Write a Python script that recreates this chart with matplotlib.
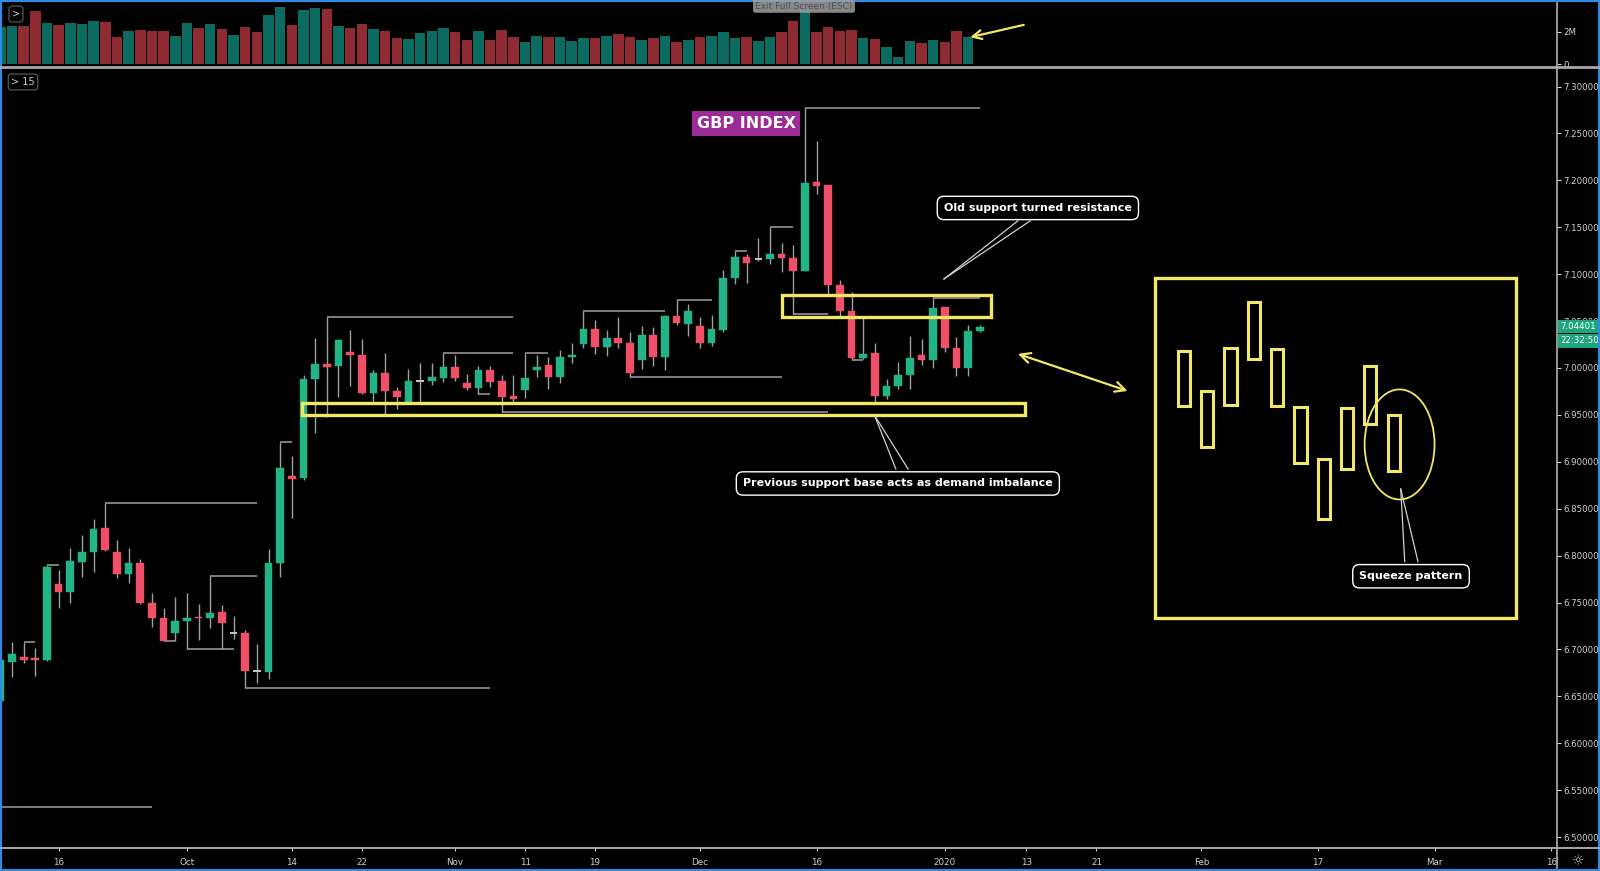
import numpy as np
import matplotlib
matplotlib.use('Agg')
import matplotlib.pyplot as plt
from matplotlib.patches import Rectangle, Ellipse
from matplotlib.lines import Line2D

# daily bars, index 0 = Sep 16 2019 (weekdays only)
bar_idx = list(range(-5, 80))
opens = [6.645, 6.687, 6.692, 6.691, 6.689, 6.770, 6.761, 6.793, 6.804, 6.829,
         6.804, 6.780, 6.792, 6.750, 6.734, 6.717, 6.730, 6.735, 6.733, 6.740,
         6.7170, 6.718, 6.6775, 6.676, 6.792, 6.885, 6.883, 6.988, 7.004, 7.002,
         7.017, 7.014, 6.973, 6.995, 6.976, 6.964, 6.9860, 6.986, 6.989, 7.001,
         6.984, 6.979, 6.998, 6.986, 6.970, 6.977, 6.998, 7.003, 6.990, 7.012,
         7.026, 7.0416, 7.022, 7.032, 7.027, 7.0085, 7.035, 7.012, 7.055, 7.047,
         7.045, 7.027, 7.041, 7.0955, 7.118, 7.1160, 7.116, 7.122, 7.117, 7.1034,
         7.198, 7.195, 7.089, 7.0607, 7.0108, 7.0165, 6.970, 6.981, 6.9925, 7.0135,
         7.0085, 7.065, 7.0208, 6.9995, 7.039]
highs = [6.695, 6.708, 6.708, 6.701, 6.790, 6.785, 6.808, 6.822, 6.839, 6.856,
         6.817, 6.808, 6.796, 6.760, 6.744, 6.756, 6.760, 6.748, 6.778, 6.747,
         6.736, 6.721, 6.706, 6.807, 6.921, 6.906, 6.992, 7.032, 7.0545, 7.031,
         7.040, 7.031, 6.998, 7.016, 6.980, 6.999, 7.005, 7.005, 7.0165, 7.014,
         6.994, 7.002, 7.002, 6.992, 6.992, 7.0165, 7.014, 7.012, 7.019, 7.027,
         7.061, 7.051, 7.040, 7.054, 7.038, 7.0448, 7.044, 7.056, 7.0725, 7.068,
         7.054, 7.056, 7.104, 7.125, 7.122, 7.139, 7.1506, 7.133, 7.131, 7.277,
         7.242, 7.195, 7.094, 7.081, 7.0535, 7.027, 6.988, 7.0065, 7.034, 7.031,
         7.0748, 7.065, 7.033, 7.046, 7.046]
lows = [6.640, 6.671, 6.685, 6.672, 6.688, 6.744, 6.750, 6.777, 6.782, 6.805,
        6.776, 6.771, 6.748, 6.724, 6.709, 6.709, 6.700, 6.710, 6.723, 6.700,
        6.711, 6.659, 6.664, 6.668, 6.777, 6.840, 6.881, 6.931, 6.948, 6.969,
        6.981, 6.972, 6.964, 6.951, 6.956, 6.964, 6.964, 6.982, 6.985, 6.986,
        6.977, 6.972, 6.980, 6.953, 6.964, 6.968, 6.990, 6.978, 6.984, 7.005,
        7.021, 7.015, 7.013, 7.021, 6.9906, 6.999, 7.002, 6.998, 7.0458, 7.034,
        7.021, 7.023, 7.0385, 7.090, 7.0905, 7.114, 7.111, 7.1025, 7.058, 7.103,
        7.185, 7.078, 7.0535, 7.0085, 7.010, 6.963, 6.9665, 6.978, 6.978, 7.003,
        7.0003, 7.0172, 6.9915, 6.9915, 7.038]
closes = [6.689, 6.695, 6.689, 6.689, 6.788, 6.761, 6.794, 6.804, 6.828, 6.806,
          6.780, 6.792, 6.749, 6.734, 6.709, 6.730, 6.734, 6.733, 6.739, 6.728,
          6.7172, 6.677, 6.6770, 6.792, 6.893, 6.882, 6.988, 7.004, 7.001, 7.030,
          7.014, 6.973, 6.995, 6.975, 6.969, 6.986, 6.9862, 6.990, 7.001, 6.989,
          6.979, 6.998, 6.985, 6.969, 6.967, 6.989, 7.001, 6.990, 7.012, 7.014,
          7.0416, 7.022, 7.032, 7.027, 6.995, 7.035, 7.012, 7.055, 7.048, 7.061,
          7.027, 7.042, 7.0955, 7.118, 7.1115, 7.1162, 7.1216, 7.117, 7.103, 7.197,
          7.194, 7.089, 7.0607, 7.0108, 7.0144, 6.970, 6.981, 6.9925, 7.011, 7.0085,
          7.064, 7.0208, 6.9995, 7.039, 7.04401]
volume_m = [2.31, 2.35, 2.35, 3.27, 2.55, 2.41, 2.51, 2.47, 2.66, 2.61,
            1.69, 2.04, 2.10, 2.04, 2.04, 1.74, 2.51, 2.21, 2.45, 2.15,
            1.80, 2.27, 2.00, 3.02, 3.50, 2.41, 3.33, 3.44, 3.37, 2.35,
            2.25, 2.47, 2.15, 2.04, 1.60, 1.53, 1.90, 2.04, 2.25, 2.00,
            1.49, 2.04, 1.49, 2.10, 1.66, 1.39, 1.74, 1.69, 1.69, 1.43,
            1.60, 1.60, 1.74, 1.86, 1.69, 1.49, 1.60, 1.74, 1.39, 1.49,
            1.66, 1.74, 2.00, 1.60, 1.66, 1.43, 1.69, 2.00, 2.66, 3.33,
            1.96, 2.27, 2.06, 2.10, 1.60, 1.53, 1.08, 0.47, 1.43, 1.33,
            1.49, 1.39, 2.04, 1.66, 0.0]

# swing high / low lines (start bar, end bar, price)
lvl_start = [-3, -1, 4, 9, 11, 13, 16, 19, 23, 33, 36, 38, 40, 45, 49, 53, 58, 61, 63, 64, 68, 70, 75, -5.5]
lvl_end = [-2, 0, 17, 10, 15, 17, 37, 20, 39, 39, 37, 66, 42, 52, 62, 56, 59, 63, 66, 79, 69, 79, 79, 8]
lvl_price = [6.708, 6.790, 6.856, 6.709, 6.700, 6.778, 6.659, 6.921, 7.0545, 7.0165, 6.972, 6.953,
             7.0165, 7.061, 6.9906, 7.0725, 7.125, 7.1506, 7.058, 7.277, 7.0085, 6.963, 7.0748, 6.532]

tick_idx = [0, 11, 20, 26, 34, 40, 46, 55, 65, 76, 83, 89, 98, 108, 118, 128]
tick_lbl = ['16', 'Oct', '14', '22', 'Nov', '11', '19', 'Dec', '16', '2020', '13', '21', 'Feb', '17', 'Mar', '16']
price_ticks = [6.50, 6.55, 6.60, 6.65, 6.70, 6.75, 6.80, 6.85, 6.90, 6.95,
               7.00, 7.05, 7.10, 7.15, 7.20, 7.25, 7.30]
last_price = 7.04401

# zones drawn by the analyst (bar range, price range)
resist_zone = (62.0, 80.0, 7.0546, 7.0778)
support_zone = (20.9, 82.9, 6.9499, 6.9628)
sketch_box = (94.0, 125.0, 6.7335, 7.096)
# sketch of the squeeze candles
sketch_x = [96.5, 98.5, 100.5, 102.5, 104.5, 106.5, 108.5, 110.5, 112.5, 114.5]
sketch_top = [7.018, 6.9755, 7.021, 7.070, 7.0203, 6.9587, 6.9035, 6.957, 7.002, 6.9497]
sketch_bot = [6.959, 6.9155, 6.9606, 7.0096, 6.9597, 6.8982, 6.839, 6.892, 6.940, 6.890]

UP = '#22b487'
DN = '#ef5068'
VUP = '#0c6b60'
VDN = '#8e2b32'
WICK = '#a0a0a0'
YEL = '#f2e866'
LINE = '#a0a0a0'

plt.rcParams['font.family'] = ['DejaVu Sans']

fig = plt.figure(figsize=(16, 8.71), dpi=100, facecolor='black')
ax_vol = fig.add_axes([0, 1 - 67 / 871, 1557 / 1600, 64 / 871])
ax = fig.add_axes([0, 1 - 848 / 871, 1557 / 1600, 780 / 871])

for a in (ax, ax_vol):
    a.set_facecolor('black')
    for s in a.spines.values():
        s.set_visible(False)
    a.yaxis.tick_right()
    a.tick_params(axis='y', colors='#d2d2d2', labelsize=6.2, length=3, width=0.8, pad=1.5)
    a.set_xlim(-5.03, 128.5)

# volume pane
vcol = [VUP if c >= o else VDN for o, c in zip(opens, closes)]
ax_vol.bar(bar_idx, np.array(volume_m) * 1e6, width=0.9, color=vcol)
ax_vol.set_ylim(-0.165e6, 3.75e6)
ax_vol.set_yticks([0, 2e6])
ax_vol.set_yticklabels(['0', '2M'])
ax_vol.set_xticks([])
ax_vol.annotate('', xy=(77.95, 1.62e6), xytext=(83.0, 2.45e6),
                arrowprops=dict(arrowstyle='->', color=YEL, lw=1.6, mutation_scale=16))

# candles
for i, o, h, l, c in zip(bar_idx, opens, highs, lows, closes):
    ax.vlines(i, l, h, color=WICK, lw=1, zorder=2)
    if abs(c - o) < 0.0006:
        ax.hlines(o, i - 0.32, i + 0.32, color='#c8c8c8', lw=1.4, zorder=3)
        continue
    col = UP if c > o else DN
    ax.add_patch(Rectangle((i - 0.33, min(o, c)), 0.66, abs(c - o), fc=col, ec=col, lw=0.3, zorder=3))

for s, e, p in zip(lvl_start, lvl_end, lvl_price):
    ax.hlines(p, s, e, color=LINE, lw=1.1, zorder=2)

# zones
for x0, x1, p0, p1 in (resist_zone, support_zone, sketch_box):
    ax.add_patch(Rectangle((x0, p0), x1 - x0, p1 - p0, fill=False, ec=YEL, lw=2.4, zorder=4))
for x, t, b in zip(sketch_x, sketch_top, sketch_bot):
    ax.add_patch(Rectangle((x - 0.52, b), 1.04, t - b, fill=False, ec=YEL, lw=2.2, zorder=4))
ax.add_patch(Ellipse((115.0, 6.9185), 6.0, 0.1173, fill=False, ec=YEL, lw=1.3, zorder=4))

ax.annotate('', xy=(91.9, 6.9746), xytext=(82.04, 7.016),
            arrowprops=dict(arrowstyle='<->', color=YEL, lw=1.6, mutation_scale=18))

# callouts
box = dict(boxstyle='round,pad=0.6,rounding_size=0.6', fc='black', ec='white', lw=1)
ax.text(83.98, 7.1706, 'Old support turned resistance', ha='center', va='center', fontsize=8,
        fontweight='bold', color='white', bbox=box, zorder=6)
ax.text(71.97, 6.8769, 'Previous support base acts as demand imbalance', ha='center', va='center',
        fontsize=8, fontweight='bold', color='white', bbox=box, zorder=6)
ax.text(115.98, 6.778, 'Squeeze pattern', ha='center', va='center', fontsize=8,
        fontweight='bold', color='white', bbox=box, zorder=6)
ax.plot([75.93, 82.25], [7.0949, 7.1567], color='#d0d0d0', lw=0.9, zorder=5)
ax.plot([75.93, 83.3], [7.0949, 7.1567], color='#d0d0d0', lw=0.9, zorder=5)
ax.plot([69.97, 71.8], [6.9496, 6.8923], color='#d0d0d0', lw=0.9, zorder=5)
ax.plot([69.97, 72.85], [6.9496, 6.8923], color='#d0d0d0', lw=0.9, zorder=5)
ax.plot([115.1, 115.44], [6.871, 6.7935], color='#d0d0d0', lw=0.9, zorder=5)
ax.plot([115.1, 116.58], [6.871, 6.7935], color='#d0d0d0', lw=0.9, zorder=5)

ax.text(58.95, 7.2607, 'GBP INDEX', ha='center', va='center', fontsize=11.5, fontweight='bold',
        color='white', bbox=dict(boxstyle='square,pad=0.3', fc='#9c2a97', ec='none'), zorder=6)

# axes
ax.set_ylim(6.4883, 7.3198)
ax.set_yticks(price_ticks)
ax.set_yticklabels(['%.5f' % p for p in price_ticks])
ax.set_xticks(tick_idx)
ax.set_xticklabels(tick_lbl)
ax.tick_params(axis='x', colors='#d2d2d2', labelsize=6.3, length=2, width=0.8, pad=5)

ax.annotate('%.5f' % last_price, xy=(1.0, last_price), xycoords=('axes fraction', 'data'),
            xytext=(2.5, 0), textcoords='offset points', ha='left', va='center', fontsize=6.2,
            color='white', bbox=dict(boxstyle='square,pad=0.25', fc='#1fa57e', ec='none'),
            annotation_clip=False, zorder=10)
ax.annotate('22:32:50', xy=(1.0, last_price), xycoords=('axes fraction', 'data'),
            xytext=(2.5, -10), textcoords='offset points', ha='left', va='center', fontsize=6.2,
            color='white', bbox=dict(boxstyle='square,pad=0.3', fc='#1fa57e', ec='none'),
            annotation_clip=False, zorder=10)

# frame lines
fig.add_artist(Line2D([0, 1], [1 - 67 / 871] * 2, transform=fig.transFigure, color='#a8a8a8', lw=2))
fig.add_artist(Line2D([0, 1], [1 - 848 / 871] * 2, transform=fig.transFigure, color='#a8a8a8', lw=1.4))
fig.add_artist(Line2D([1557 / 1600] * 2, [3 / 871, 1 - 3 / 871], transform=fig.transFigure, color='#b0b0b0', lw=1.2))
fig.add_artist(Rectangle((0, 0), 1, 1, transform=fig.transFigure, fill=False, ec='#2f8ae0', lw=3))

fig.text(1578 / 1600, 1 - 861 / 871, '\u263c', color='#bbbbbb', fontsize=10, ha='center', va='center')
fig.text(804 / 1600, 1 - 6 / 871, 'Exit Full Screen (ESC)', color='#505050', fontsize=6.5, ha='center',
         va='center', bbox=dict(boxstyle='round,pad=0.25', fc='#a0a0a0', ec='none', alpha=0.85))
ui = dict(boxstyle='round,pad=0.3', fc='black', ec='#606060', lw=0.8)
fig.text(16 / 1600, 1 - 14 / 871, '>', color='#cccccc', fontsize=7, ha='center', va='center', bbox=ui)
fig.text(23 / 1600, 1 - 82 / 871, '> 15', color='#cccccc', fontsize=7, ha='center', va='center', bbox=ui)

fig.savefig('out.png', dpi=100, facecolor='black')
